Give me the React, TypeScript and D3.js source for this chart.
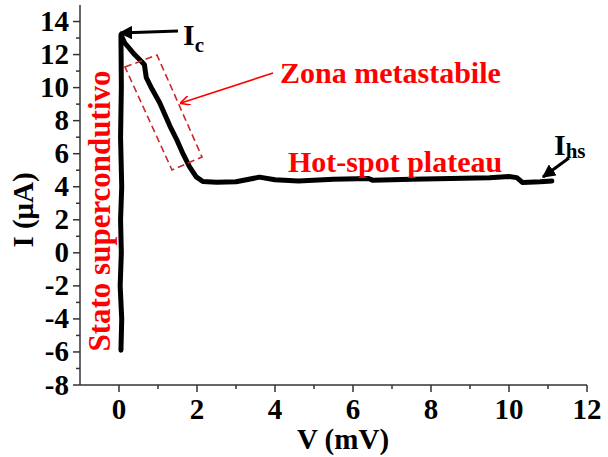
import React from "react";
import * as d3 from "d3";

const voltage = [0.05, 0.07, 0.03, 0.06, 0.04, 0.07, 0.04, 0.06, 0.05, 0.15, 0.4, 0.57, 0.65, 0.7, 0.85, 1.04, 1.3, 1.47, 1.64, 1.81, 1.98, 2.15, 2.5, 3.0, 3.6, 4.0, 4.6, 5.5, 6.4, 6.5, 7.5, 8.5, 9.5, 10.0, 10.2, 10.35, 10.8, 11.1];
const current = [-5.9, -4, -2, 0, 2, 4, 7, 10, 13.2, 12.7, 12.0, 11.6, 11.4, 10.6, 9.9, 9.1, 7.7, 6.9, 6.0, 5.2, 4.6, 4.32, 4.27, 4.3, 4.58, 4.42, 4.35, 4.45, 4.5, 4.4, 4.45, 4.5, 4.55, 4.62, 4.55, 4.25, 4.3, 4.35];

const xTicks = [0, 2, 4, 6, 8, 10, 12];
const xMinor = [1, 3, 5, 7, 9, 11];
const yTicks = [-8, -6, -4, -2, 0, 2, 4, 6, 8, 10, 12, 14];
const yMinor = [-7, -5, -3, -1, 1, 3, 5, 7, 9, 11, 13];

const FONT = "'Liberation Serif', 'Times New Roman', serif";
const RED = "#ff0000";
const DARKRED = "#c8282a";

export default function App() {
  const x = d3.scaleLinear().domain([-1, 12]).range([80, 587]);
  const y = d3.scaleLinear().domain([-8, 15]).range([385, 5]);
  const pts: [number, number][] = voltage.map((v, i) => [v, current[i]]);
  const line = d3
    .line<[number, number]>()
    .x((d) => x(d[0]))
    .y((d) => y(d[1]));

  const x0 = x(-1);
  const y0 = y(-8);

  return (
    <svg width={608} height={457} style={{ position: "absolute", left: 0, top: 0, background: "#fff" }} fontFamily={FONT} fontWeight="bold">
      <defs>
        <marker id="ah" viewBox="0 0 10 10" refX="9" refY="5" markerWidth="4.5" markerHeight="4.5" orient="auto-start-reverse">
          <path d="M0,0 L10,5 L0,10 z" fill="#000" />
        </marker>
        <marker id="ahr" viewBox="0 0 10 10" refX="9" refY="5" markerWidth="10" markerHeight="10" orient="auto" markerUnits="userSpaceOnUse">
          <path d="M0,0 L10,5 L0,10" fill="none" stroke={RED} strokeWidth={1.6} />
        </marker>
      </defs>

      {/* axes */}
      <line x1={x0} x2={x(12)} y1={y0} y2={y0} stroke="#333" strokeWidth={1.5} />
      <line x1={x0} x2={x0} y1={y0} y2={y(15)} stroke="#333" strokeWidth={1.5} />
      {xTicks.map((t) => (
        <g key={"xt" + t}>
          <line x1={x(t)} x2={x(t)} y1={y0} y2={y0 + 7} stroke="#333" strokeWidth={1.5} />
          <text x={x(t)} y={419} textAnchor="middle" fontSize={29}>{t}</text>
        </g>
      ))}
      {xMinor.map((t) => (
        <line key={"xm" + t} x1={x(t)} x2={x(t)} y1={y0} y2={y0 + 4} stroke="#333" strokeWidth={1.5} />
      ))}
      {yTicks.map((t) => (
        <g key={"yt" + t}>
          <line x1={x0 - 7} x2={x0} y1={y(t)} y2={y(t)} stroke="#333" strokeWidth={1.5} />
          <text x={69} y={y(t) + 9.5} textAnchor="end" fontSize={29}>{t}</text>
        </g>
      ))}
      {yMinor.map((t) => (
        <line key={"ym" + t} x1={x0 - 4} x2={x0} y1={y(t)} y2={y(t)} stroke="#333" strokeWidth={1.5} />
      ))}

      <text x={343} y={449} textAnchor="middle" fontSize={29}>V (mV)</text>
      <text transform="translate(33,210) rotate(-90)" textAnchor="middle" fontSize={29}>I (μA)</text>

      {/* data */}
      <path d={line(pts) || ""} fill="none" stroke="#000" strokeWidth={5} strokeLinejoin="round" strokeLinecap="round" />

      {/* dashed metastable box */}
      <polygon points="125,67 157,55 202,157 172,170" fill="none" stroke={DARKRED} strokeWidth={1.6} strokeDasharray="7,4" />

      {/* annotations */}
      <text transform="translate(110,211) rotate(-90)" textAnchor="middle" fontSize={31} fill={RED}>Stato supercondutivo</text>
      <text x={280} y={83} fontSize={30} fill={RED}>Zona metastabile</text>
      <line x1={273} y1={73} x2={181} y2={103} stroke={RED} strokeWidth={1.6} markerEnd="url(#ahr)" />
      <text x={288} y={172} fontSize={30} fill={RED}>Hot-spot plateau</text>

      <line x1={178} y1={31} x2={120} y2={33} stroke="#000" strokeWidth={3} markerEnd="url(#ah)" />
      <text x={183} y={45} fontSize={30}>I<tspan fontSize={21} dy={7}>c</tspan></text>

      <line x1={569} y1={158} x2={543} y2={177} stroke="#000" strokeWidth={3} markerEnd="url(#ah)" />
      <text x={554} y={155} fontSize={30}>I<tspan fontSize={21} dy={3}>hs</tspan></text>
    </svg>
  );
}
